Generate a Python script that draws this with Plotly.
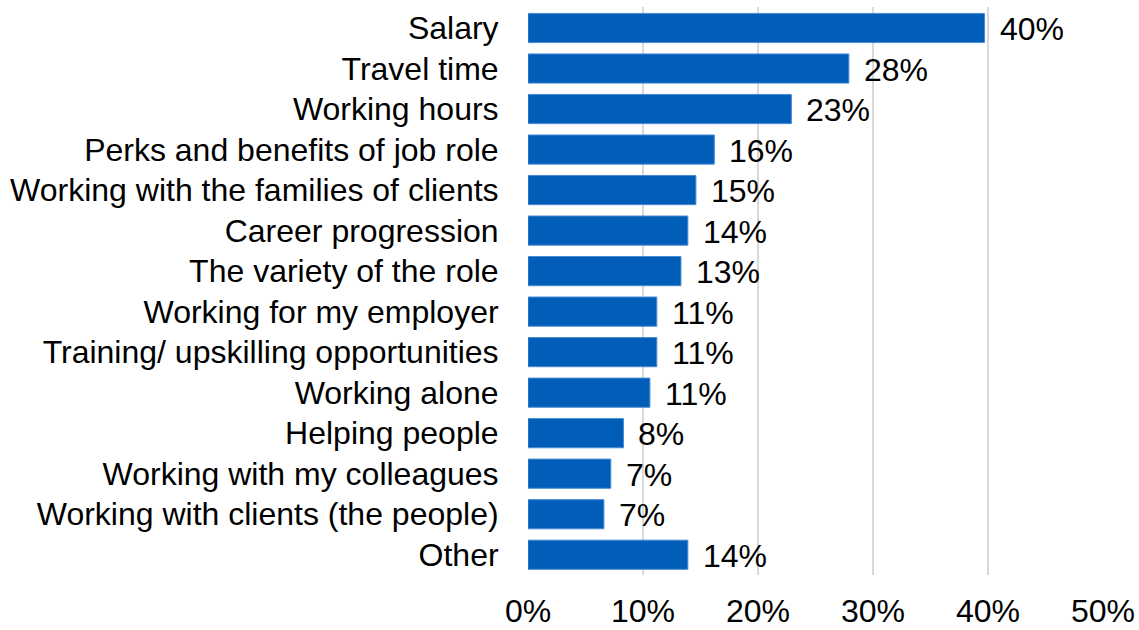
import plotly.graph_objects as go

categories = [
    "Salary",
    "Travel time",
    "Working hours",
    "Perks and benefits of job role",
    "Working with the families of clients",
    "Career progression",
    "The variety of the role",
    "Working for my employer",
    "Training/ upskilling opportunities",
    "Working alone",
    "Helping people",
    "Working with my colleagues",
    "Working with clients (the people)",
    "Other",
]
values = [0.397, 0.279, 0.229, 0.162, 0.146, 0.139, 0.133, 0.112, 0.112, 0.106, 0.083, 0.072, 0.066, 0.139]
labels = ["40%", "28%", "23%", "16%", "15%", "14%", "13%", "11%", "11%", "11%", "8%", "7%", "7%", "14%"]
x_ticks = [0, 0.1, 0.2, 0.3, 0.4, 0.5]
x_tick_labels = ["0%", "10%", "20%", "30%", "40%", "50%"]

FONT = "Liberation Sans, Arial, sans-serif"
FS = 32

fig = go.Figure()
fig.add_trace(go.Bar(
    y=categories,
    x=values,
    orientation="h",
    marker=dict(color="#005EB8", line=dict(color="#4A8AD4", width=1)),
    width=0.72,
    hoverinfo="skip",
))

for c, v, t in zip(categories, values, labels):
    fig.add_annotation(
        x=v, y=c, text=t, showarrow=False, xanchor="left", yanchor="middle",
        xshift=13, yshift=-1, font=dict(family=FONT, size=FS, color="#000000"),
    )

fig.update_layout(
    width=1139, height=630,
    margin=dict(l=528, r=36, t=7, b=55, autoexpand=False),
    paper_bgcolor="white", plot_bgcolor="white",
    showlegend=False,
    font=dict(family=FONT, size=FS, color="#000000"),
)
fig.update_xaxes(
    range=[0, 0.5], tickvals=x_ticks, ticktext=x_tick_labels,
    showgrid=True, gridcolor="#D9D9D9", gridwidth=1.5,
    zeroline=False, showline=False, automargin=False,
    ticks="outside", ticklen=0, ticklabelstandoff=8,
    tickfont=dict(family=FONT, size=FS, color="#000000"),
)
fig.update_yaxes(
    categoryorder="array", categoryarray=categories, autorange="reversed",
    showgrid=False, zeroline=False, showline=False, automargin=False,
    ticks="outside", ticklen=0, ticklabelstandoff=22,
    tickfont=dict(family=FONT, size=FS, color="#000000"),
)

fig.write_html("out.html")
